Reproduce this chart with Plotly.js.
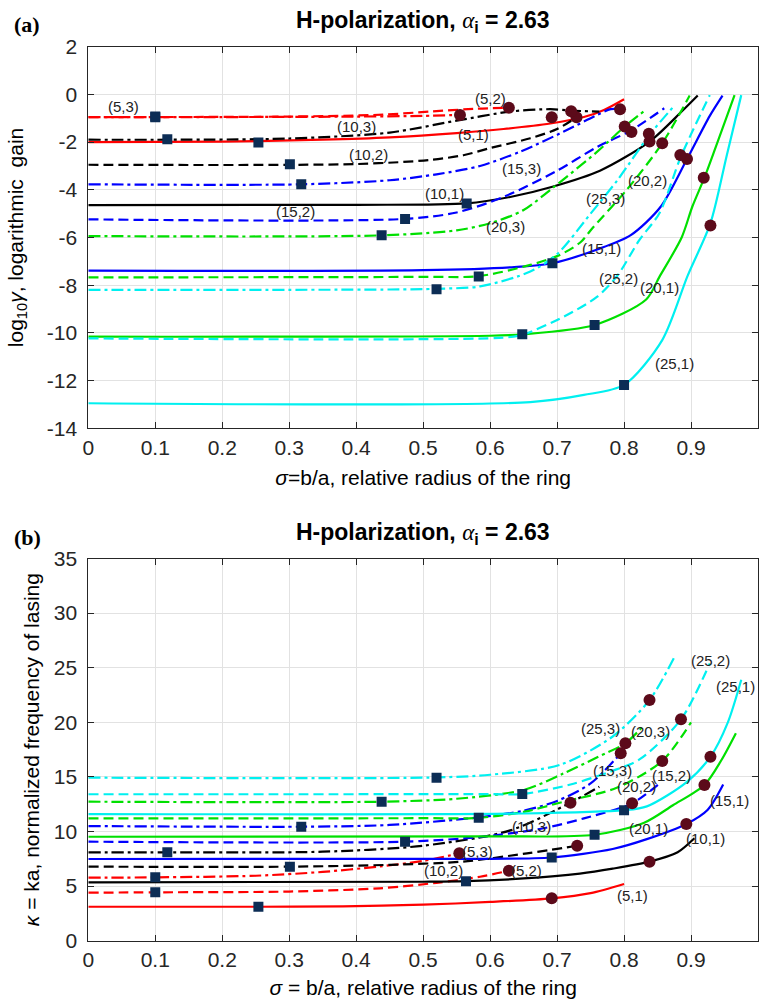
<!DOCTYPE html>
<html>
<head>
<meta charset="utf-8">
<script src="https://cdn.plot.ly/plotly-3.0.1.min.js"></script>
<style>html,body{margin:0;padding:0;background:#fff;}#chart{width:762px;height:1003px;}</style>
</head>
<body>
<div id="chart"></div>
<script>
// ---------- DATA ----------
// modes (n,m): colour by n, line style by m
const modeLabels = ['(5,1)','(5,2)','(5,3)','(10,1)','(10,2)','(10,3)','(15,1)','(15,2)','(15,3)','(20,1)','(20,2)','(20,3)','(25,1)','(25,2)','(25,3)'];
const modeN = [5,5,5,10,10,10,15,15,15,20,20,20,25,25,25];
const modeM = [1,2,3,1,2,3,1,2,3,1,2,3,1,2,3];

// panel (a): log10 gain vs sigma  [sigma, value]
const gain_5_1  = [[0,-2.0],[0.2,-1.98],[0.35,-1.9],[0.45,-1.8],[0.55,-1.62],[0.62,-1.45],[0.69,-1.22],[0.74,-0.95],[0.77,-0.65],[0.80,-0.2]];
const gain_5_2  = [[0,-0.95],[0.3,-0.93],[0.44,-0.85],[0.51,-0.72],[0.58,-0.6],[0.628,-0.56]];
const gain_5_3  = [[0,-0.95],[0.2,-0.95],[0.4,-0.93],[0.5,-0.9],[0.555,-0.86]];
const gain_10_1 = [[0,-4.64],[0.4,-4.63],[0.565,-4.57],[0.63,-4.3],[0.693,-3.87],[0.764,-3.2],[0.838,-1.98],[0.886,-0.72],[0.91,-0.05]];
const gain_10_2 = [[0,-2.95],[0.4,-2.92],[0.51,-2.75],[0.56,-2.55],[0.6,-2.25],[0.66,-1.84],[0.7,-1.45],[0.729,-0.96]];
const gain_10_3 = [[0,-1.9],[0.3,-1.85],[0.45,-1.6],[0.55,-1.1],[0.63,-0.72],[0.69,-0.62],[0.721,-0.68],[0.763,-0.72]];
const gain_15_1 = [[0,-7.39],[0.5,-7.37],[0.63,-7.25],[0.693,-7.08],[0.76,-6.5],[0.81,-5.9],[0.855,-4.7],[0.894,-2.71],[0.928,-0.9],[0.947,-0.05]];
const gain_15_2 = [[0,-5.24],[0.473,-5.22],[0.55,-4.95],[0.62,-4.3],[0.7,-3.2],[0.76,-2.2],[0.811,-1.5],[0.86,-0.58]];
const gain_15_3 = [[0,-3.77],[0.318,-3.77],[0.45,-3.6],[0.52,-3.35],[0.585,-3.0],[0.645,-2.4],[0.71,-1.56],[0.76,-0.86],[0.78,-0.62],[0.794,-0.62]];
const gain_20_1 = [[0,-10.16],[0.6,-10.12],[0.648,-10.06],[0.756,-9.67],[0.833,-8.6],[0.853,-7.64],[0.886,-6.0],[0.902,-4.7],[0.92,-3.49],[0.937,-2.2],[0.965,-0.03]];
const gain_20_2 = [[0,-7.67],[0.5,-7.65],[0.583,-7.62],[0.66,-7.15],[0.704,-6.73],[0.735,-6.2],[0.753,-5.6],[0.804,-4.0],[0.857,-2.05],[0.898,-0.05]];
const gain_20_3 = [[0,-5.94],[0.438,-5.91],[0.55,-5.7],[0.6,-5.4],[0.65,-4.85],[0.69,-4.0],[0.76,-2.4],[0.801,-1.35],[0.83,-0.7]];
const gain_25_1 = [[0,-12.95],[0.66,-12.9],[0.74,-12.6],[0.80,-12.18],[0.857,-10.3],[0.895,-7.6],[0.929,-5.4],[0.953,-2.6],[0.975,-0.03]];
const gain_25_2 = [[0,-10.23],[0.62,-10.2],[0.648,-10.08],[0.71,-9.32],[0.76,-8.48],[0.79,-7.6],[0.823,-6.1],[0.853,-4.97],[0.885,-2.6],[0.928,-0.03]];
const gain_25_3 = [[0,-8.2],[0.45,-8.18],[0.52,-8.15],[0.585,-8.05],[0.66,-7.43],[0.70,-6.7],[0.75,-5.0],[0.79,-3.6],[0.838,-1.7],[0.876,-0.44]];

// panel (b): kappa = ka vs sigma  [sigma, value]
const kappa_5_1  = [[0,3.11],[0.254,3.11],[0.38,3.15],[0.5,3.3],[0.6,3.55],[0.692,3.88],[0.75,4.35],[0.8,5.19]];
const kappa_5_2  = [[0,4.4],[0.1,4.43],[0.3,4.5],[0.435,4.8],[0.52,5.3],[0.585,5.86],[0.628,6.41]];
const kappa_5_3  = [[0,5.77],[0.1,5.8],[0.25,5.95],[0.35,6.3],[0.435,6.8],[0.5,7.3],[0.554,8.0]];
const kappa_10_1 = [[0,5.35],[0.5,5.4],[0.564,5.45],[0.65,5.7],[0.734,6.15],[0.783,6.6],[0.838,7.24],[0.88,8.1],[0.905,9.38]];
const kappa_10_2 = [[0,6.78],[0.301,6.78],[0.45,6.95],[0.56,7.25],[0.655,8.0],[0.73,8.7]];
const kappa_10_3 = [[0,8.09],[0.118,8.09],[0.35,8.15],[0.5,8.7],[0.63,10.1],[0.72,12.64],[0.763,14.1]];
const kappa_15_1 = [[0,7.48],[0.6,7.5],[0.692,7.62],[0.783,8.4],[0.834,9.3],[0.893,10.69],[0.925,12.0],[0.948,14.3]];
const kappa_15_2 = [[0,9.07],[0.473,9.07],[0.585,9.5],[0.68,10.3],[0.74,11.2],[0.812,12.58],[0.853,14.4]];
const kappa_15_3 = [[0,10.5],[0.318,10.44],[0.45,10.6],[0.584,11.3],[0.65,11.9],[0.7,12.8],[0.75,14.4],[0.795,17.16]];
const kappa_20_1 = [[0,9.52],[0.6,9.55],[0.756,9.7],[0.83,10.8],[0.873,12.4],[0.92,14.26],[0.945,16.5],[0.967,19.0]];
const kappa_20_2 = [[0,11.2],[0.5,11.22],[0.583,11.25],[0.65,11.8],[0.708,12.7],[0.789,14.0],[0.857,16.46],[0.9,20.0]];
const kappa_20_3 = [[0,12.73],[0.438,12.73],[0.55,13.0],[0.65,13.8],[0.709,15.3],[0.76,16.8],[0.802,18.08],[0.83,19.75]];
const kappa_25_1 = [[0,11.6],[0.65,11.65],[0.8,11.95],[0.834,12.3],[0.893,14.5],[0.929,16.85],[0.955,20.0],[0.975,23.9]];
const kappa_25_2 = [[0,13.41],[0.6,13.42],[0.648,13.43],[0.72,14.3],[0.78,15.5],[0.823,16.6],[0.885,20.27],[0.928,25.4]];
const kappa_25_3 = [[0,14.93],[0.52,14.95],[0.6,15.2],[0.704,16.1],[0.783,18.7],[0.838,22.04],[0.876,26.07]];

// square markers (one per mode, modeLabels order)
const sqSigmaA = [0.254,0.1,0.1,0.565,0.301,0.118,0.693,0.473,0.318,0.756,0.583,0.438,0.80,0.648,0.52];
const sqGainA  = [-2.02,-0.93,-0.96,-4.57,-2.93,-1.88,-7.08,-5.22,-3.77,-9.67,-7.64,-5.91,-12.18,-10.06,-8.17];
const sqSigmaB = [0.254,0.1,0.1,0.564,0.301,0.118,0.692,0.473,0.318,0.756,0.583,0.438,0.80,0.648,0.52];
const sqKappaB = [3.11,4.43,5.8,5.45,6.78,8.09,7.62,9.07,10.44,9.7,11.25,12.73,11.95,13.43,14.93];
// circle markers (one per mode)
const ciSigmaA = [0.692,0.628,0.555,0.838,0.729,0.721,0.894,0.811,0.794,0.919,0.857,0.801,0.929,0.884,0.837];
const ciGainA  = [-0.96,-0.56,-0.86,-1.98,-0.96,-0.71,-2.71,-1.58,-0.62,-3.49,-2.05,-1.35,-5.5,-2.54,-1.65];
const ciSigmaB = [0.692,0.628,0.554,0.838,0.73,0.72,0.893,0.812,0.795,0.92,0.857,0.802,0.929,0.885,0.838];
const ciKappaB = [3.88,6.41,8.0,7.24,8.7,12.64,10.69,12.58,17.16,14.26,16.46,18.08,16.85,20.27,22.04];

// curve labels
const lblTextA  = ['(5,3)','(10,3)','(10,2)','(15,2)','(5,2)','(5,1)','(15,3)','(10,1)','(20,3)','(20,2)','(25,3)','(15,1)','(25,2)','(20,1)','(25,1)'];
const lblSigmaA = [0.053,0.4,0.418,0.31,0.6,0.575,0.647,0.532,0.623,0.835,0.773,0.767,0.792,0.853,0.875];
const lblGainA  = [-0.49,-1.33,-2.5,-4.93,-0.16,-1.7,-3.1,-4.15,-5.55,-3.59,-4.36,-6.45,-7.71,-8.1,-11.3];
const lblTextB  = ['(25,2)','(25,1)','(25,3)','(20,3)','(15,3)','(15,2)','(20,2)','(15,1)','(20,1)','(10,1)','(10,3)','(5,3)','(10,2)','(5,2)','(5,1)'];
const lblSigmaB = [0.929,0.967,0.765,0.84,0.783,0.871,0.818,0.958,0.837,0.922,0.662,0.581,0.531,0.654,0.813];
const lblKappaB = [25.7,23.26,19.45,19.14,15.63,15.17,14.1,12.88,10.29,9.38,10.44,8.15,6.47,6.41,4.18];

// axis ticks
const xTickVals = [0,0.1,0.2,0.3,0.4,0.5,0.6,0.7,0.8,0.9,1];
const xTickText = ['0','0.1','0.2','0.3','0.4','0.5','0.6','0.7','0.8','0.9','1'];
const yTickValsA = [-14,-12,-10,-8,-6,-4,-2,0,2];
const yTickTextA = ['-14','-12','-10','-8','-6','-4','-2','0','2'];
const yTickValsB = [0,5,10,15,20,25,30,35];
const yTickTextB = ['0','5','10','15','20','25','30','35'];

// ---------- STYLE ----------
const FONT = 'Liberation Sans, Arial, Helvetica, sans-serif';
const SERIF = 'Liberation Serif, Times New Roman, serif';
const colorByN = {5:'#ff0000',10:'#000000',15:'#0000ff',20:'#00e000',25:'#00f0f0'};
const dashByM = {1:'solid',2:'10px,5px',3:'12px,4px,3px,4px'};

const gainCurves = [gain_5_1,gain_5_2,gain_5_3,gain_10_1,gain_10_2,gain_10_3,gain_15_1,gain_15_2,gain_15_3,gain_20_1,gain_20_2,gain_20_3,gain_25_1,gain_25_2,gain_25_3];
const kappaCurves = [kappa_5_1,kappa_5_2,kappa_5_3,kappa_10_1,kappa_10_2,kappa_10_3,kappa_15_1,kappa_15_2,kappa_15_3,kappa_20_1,kappa_20_2,kappa_20_3,kappa_25_1,kappa_25_2,kappa_25_3];

function curve(pts, i, xa, ya) {
  return {
    x: pts.map(p => p[0]), y: pts.map(p => p[1]),
    type: 'scatter', mode: 'lines', name: modeLabels[i],
    xaxis: xa, yaxis: ya, showlegend: false, hoverinfo: 'skip',
    line: {color: colorByN[modeN[i]], width: 2.2, dash: dashByM[modeM[i]], shape: 'spline', smoothing: 0.8}
  };
}
const traces = [];
gainCurves.forEach((c, i) => traces.push(curve(c, i, 'x', 'y')));
kappaCurves.forEach((c, i) => traces.push(curve(c, i, 'x2', 'y2')));

const sqMarker = {symbol: 'square', size: 10, color: '#0c2d55', line: {width: 0}};
const ciMarker = {symbol: 'circle', size: 12, color: '#5c0a1a', line: {width: 0}};
traces.push({x: sqSigmaA, y: sqGainA, mode: 'markers', type: 'scatter', marker: sqMarker, xaxis: 'x', yaxis: 'y', showlegend: false, hoverinfo: 'skip'});
traces.push({x: ciSigmaA, y: ciGainA, mode: 'markers', type: 'scatter', marker: ciMarker, xaxis: 'x', yaxis: 'y', showlegend: false, hoverinfo: 'skip'});
traces.push({x: sqSigmaB, y: sqKappaB, mode: 'markers', type: 'scatter', marker: sqMarker, xaxis: 'x2', yaxis: 'y2', showlegend: false, hoverinfo: 'skip'});
traces.push({x: ciSigmaB, y: ciKappaB, mode: 'markers', type: 'scatter', marker: ciMarker, xaxis: 'x2', yaxis: 'y2', showlegend: false, hoverinfo: 'skip'});

const axisBase = {
  showgrid: true, gridcolor: '#e2e2e2', gridwidth: 1, zeroline: false,
  showline: true, linecolor: '#262626', linewidth: 1, mirror: 'ticks',
  ticks: 'inside', ticklen: 6, tickcolor: '#262626', tickwidth: 1,
  tickfont: {family: FONT, size: 21, color: '#262626'}, automargin: false
};
const xDomain = [88.3/762, 758/762];

const annotations = [];
lblTextA.forEach((t, i) => annotations.push({x: lblSigmaA[i], y: lblGainA[i], xref: 'x', yref: 'y', text: t, showarrow: false, font: {family: FONT, size: 15, color: '#222'}}));
lblTextB.forEach((t, i) => annotations.push({x: lblSigmaB[i], y: lblKappaB[i], xref: 'x2', yref: 'y2', text: t, showarrow: false, font: {family: FONT, size: 15, color: '#222'}}));
const titleText = 'H-polarization, <span style="font-family:' + SERIF + ';font-weight:normal"><i>α</i></span><sub>i</sub> = 2.63';
annotations.push({xref: 'paper', yref: 'paper', x: 423/762, y: 1 - 21/1003, text: '<b>' + titleText + '</b>', showarrow: false, font: {family: FONT, size: 23, color: '#000'}, xanchor: 'center', yanchor: 'middle'});
annotations.push({xref: 'paper', yref: 'paper', x: 423/762, y: 1 - 533/1003, text: '<b>' + titleText + '</b>', showarrow: false, font: {family: FONT, size: 23, color: '#000'}, xanchor: 'center', yanchor: 'middle'});
annotations.push({xref: 'paper', yref: 'paper', x: 27/762, y: 1 - 25/1003, text: '<b>(a)</b>', showarrow: false, font: {family: SERIF, size: 22, color: '#000'}, xanchor: 'center', yanchor: 'middle'});
annotations.push({xref: 'paper', yref: 'paper', x: 27/762, y: 1 - 537/1003, text: '<b>(b)</b>', showarrow: false, font: {family: SERIF, size: 22, color: '#000'}, xanchor: 'center', yanchor: 'middle'});

const layout = {
  width: 762, height: 1003, margin: {l: 0, r: 0, t: 0, b: 0},
  paper_bgcolor: '#ffffff', plot_bgcolor: '#ffffff', showlegend: false,
  font: {family: FONT, color: '#000'},
  xaxis: Object.assign({}, axisBase, {domain: xDomain, anchor: 'y', range: [0, 1], tickvals: xTickVals, ticktext: xTickText,
    title: {text: '<i>σ</i>=b/a, relative radius of the ring', font: {family: FONT, size: 21, color: '#000'}, standoff: 12}}),
  yaxis: Object.assign({}, axisBase, {domain: [1 - 428.3/1003, 1 - 46.7/1003], anchor: 'x', range: [-14, 2], tickvals: yTickValsA, ticktext: yTickTextA, ticklabelstandoff: 6,
    title: {text: 'log<sub>10</sub><i>γ</i>, logarithmic\u00a0 gain', font: {family: FONT, size: 21, color: '#000'}, standoff: 17}}),
  xaxis2: Object.assign({}, axisBase, {domain: xDomain, anchor: 'y2', range: [0, 1], tickvals: xTickVals, ticktext: xTickText,
    title: {text: '<i>σ</i> = b/a, relative radius of the ring', font: {family: FONT, size: 21, color: '#000'}, standoff: 10}}),
  yaxis2: Object.assign({}, axisBase, {domain: [1 - 940.7/1003, 1 - 558.5/1003], anchor: 'x2', range: [0, 35], tickvals: yTickValsB, ticktext: yTickTextB, ticklabelstandoff: 6,
    title: {text: '<i>κ</i> = ka, normalized frequency of lasing', font: {family: FONT, size: 21, color: '#000'}, standoff: 8}}),
  annotations: annotations
};

Plotly.newPlot('chart', traces, layout, {staticPlot: true, displayModeBar: false});
</script>
</body>
</html>
